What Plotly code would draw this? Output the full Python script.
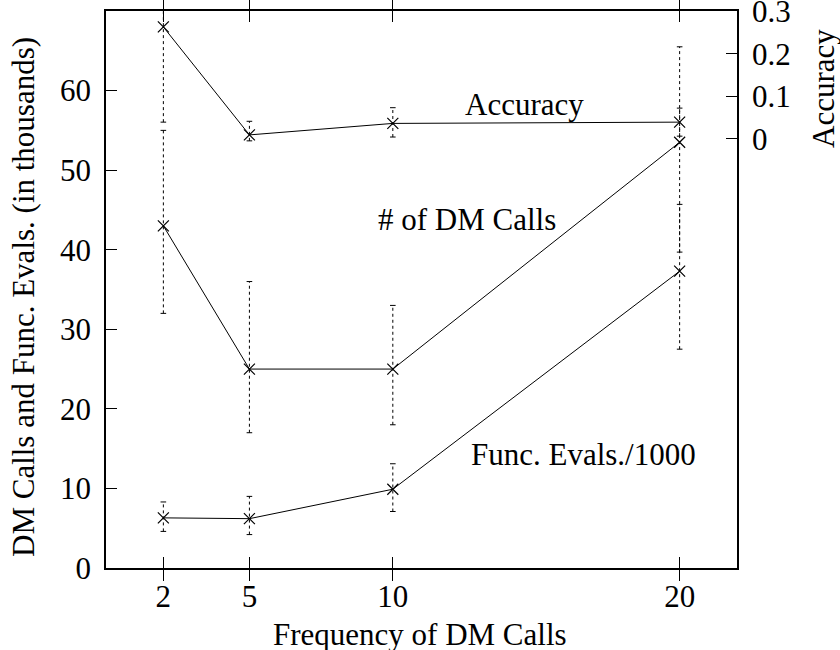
import plotly.graph_objects as go

# Frequency of DM calls (x positions)
freq = [2, 5, 10, 20]

# Accuracy (right axis) with lower/upper error bounds
accuracy = [0.263, 0.009, 0.036, 0.039]
accuracy_low = [0.039, -0.005, 0.004, 0.006]
accuracy_high = [0.49, 0.041, 0.073, 0.072]

# Number of DM calls (left axis, thousands)
dm_calls = [43, 25, 25, 53.5]
dm_calls_low = [32, 17, 18, 39.7]
dm_calls_high = [55, 36, 33, 65.5]

# Function evaluations / 1000 (left axis)
func_evals = [6.3, 6.2, 9.9, 37.3]
func_evals_low = [4.6, 4.2, 7.1, 27.5]
func_evals_high = [8.3, 9.0, 13.1, 45.7]

x_ticks = [2, 5, 10, 20]
y_ticks = [0, 10, 20, 30, 40, 50, 60]
y2_ticks = [0, 0.1, 0.2, 0.3]
y2_ticktext = ["0", "0.1", "0.2", "0.3"]

FONT = "Liberation Serif, Times New Roman, serif"
FS = 31

fig = go.Figure()


def add_series(xs, ys, lo, hi, yaxis):
    # dotted vertical error bars
    ex, ey = [], []
    for xv, l, h in zip(xs, lo, hi):
        ex += [xv, xv, None]
        ey += [l, h, None]
    fig.add_trace(go.Scatter(
        x=ex, y=ey, mode="lines", yaxis=yaxis, hoverinfo="skip",
        line=dict(color="black", width=1, dash="dot"), showlegend=False))
    # small caps at the ends of the error bars
    fig.add_trace(go.Scatter(
        x=list(xs) + list(xs), y=list(lo) + list(hi), mode="markers",
        yaxis=yaxis, hoverinfo="skip", showlegend=False,
        marker=dict(symbol="line-ew", size=4,
                    line=dict(color="black", width=1))))
    # mean line with cross markers
    fig.add_trace(go.Scatter(
        x=xs, y=ys, mode="lines+markers", yaxis=yaxis, showlegend=False,
        line=dict(color="black", width=1),
        marker=dict(symbol="x-thin", size=11, color="black",
                    line=dict(color="black", width=1.2))))


add_series(freq, accuracy, accuracy_low, accuracy_high, "y2")
add_series(freq, dm_calls, dm_calls_low, dm_calls_high, "y")
add_series(freq, func_evals, func_evals_low, func_evals_high, "y")

axis_common = dict(
    showgrid=False, zeroline=False, showline=True, linecolor="black",
    linewidth=1.5, ticks="inside", ticklen=11, tickwidth=1,
    tickcolor="black", tickfont=dict(family=FONT, size=FS, color="black"),
    ticklabeloverflow="allow", automargin=False,
)

fig.update_layout(
    width=840, height=650,
    margin=dict(l=106, r=103, t=11, b=82),
    paper_bgcolor="white", plot_bgcolor="white",
    font=dict(family=FONT, size=FS, color="black"),
    xaxis=dict(range=[0, 22], tickvals=x_ticks, mirror="allticks",
               ticklabelstandoff=0, **axis_common),
    yaxis=dict(range=[0, 70], tickvals=y_ticks, ticklabelstandoff=7,
               **axis_common),
    yaxis2=dict(range=[-1.01, 0.3005], tickvals=y2_ticks,
                ticktext=y2_ticktext, overlaying="y", side="right",
                ticklabelstandoff=7, **axis_common),
)

# plot-area geometry used to place the titles in pixels
L, T, W, H = 106, 11, 631, 557


def px_x(px):
    return (px - L) / W


def px_y(py):
    return (T + H - py) / H


annotations = [
    dict(text="Accuracy", x=14.6, y=58.3, xref="x", yref="y"),
    dict(text="# of DM Calls", x=12.6, y=43.8, xref="x", yref="y"),
    dict(text="Func. Evals./1000", x=16.65, y=14.3, xref="x", yref="y"),
    dict(text="DM Calls and Func. Evals. (in thousands)", x=px_x(23),
         y=px_y(297), xref="paper", yref="paper", textangle=-90),
    dict(text="Accuracy", x=px_x(823), y=px_y(88), xref="paper",
         yref="paper", textangle=-90),
]
for a in annotations:
    fig.add_annotation(showarrow=False, xanchor="center", yanchor="middle",
                       font=dict(family=FONT, size=FS, color="black"), **a)

# x-axis title sits against the bottom edge
fig.add_annotation(text="Frequency of DM Calls", x=px_x(420), y=px_y(654),
                   xref="paper", yref="paper", xanchor="center",
                   yanchor="bottom", showarrow=False,
                   font=dict(family=FONT, size=FS, color="black"))

fig.write_html("out.html")
